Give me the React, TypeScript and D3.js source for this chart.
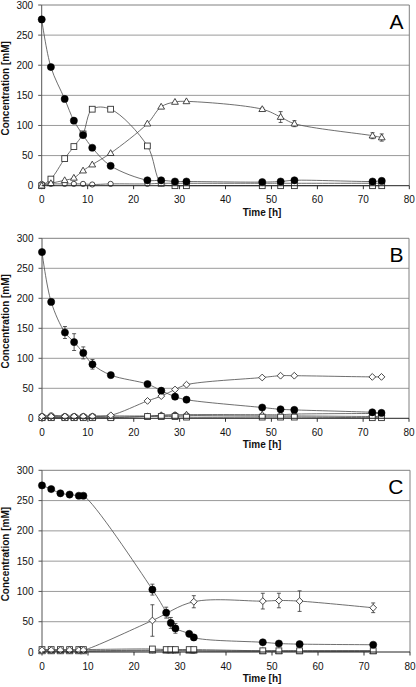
import React from "react";
import * as d3 from "d3";

// ---------- Data ----------
const xTicks = [0, 10, 20, 30, 40, 50, 60, 70, 80];
const yTicks = [0, 50, 100, 150, 200, 250, 300];

// Panel A
const timesA = [0, 2, 5, 7, 9, 11, 15, 23, 26, 29, 31.5, 48, 52, 55, 72, 74];
const glucoseA = [276, 197, 144, 108, 84, 63, 33, 9, 9, 7, 7, 6, 7, 9, 7, 8];
const squareA = [0, 11, 45, 65, 86, 127, 127, 66, 4, 0, 0, 0, 0, 0, 0, 0];
const triangleA = [0, 4, 9, 13, 25, 35, 54, 103, 131, 139, 140, 127, 114, 103, 83, 80];
const triangleErrA = [0, 0, 0, 0, 0, 0, 0, 0, 0, 0, 0, 2, 9, 5, 5, 6];
const openCircleA = [3, 3, 3, 3, 3, 2, 3, 3, 4, 4, 4, 4, 4, 4, 4, 4];

// Panel B
const timesB = [0, 2, 5, 7, 9, 11, 15, 23, 26, 29, 31.5, 48, 52, 55, 72, 74];
const glucoseB = [277, 194, 143, 127, 109, 90, 72, 57, 46, 36, 31, 18, 15, 14, 10, 9];
const glucoseErrB = [0, 3, 10, 14, 10, 8, 4, 2, 2, 2, 2, 2, 2, 2, 2, 2];
const diamondB = [3, 3, 3, 3, 3, 3, 5, 29, 37, 48, 56, 68, 71, 71, 69, 69];
const squareB = [1, 1, 1, 1, 1, 1, 1, 3, 3, 3, 2, 2, 2, 2, 1, 1];
const triangleB = [1, 1, 1, 1, 2, 2, 2, 3, 5, 5, 6, 6, 6, 7, 8, 8];
const openCircleB = [4, 5, 4, 4, 4, 4, 4, 4, 5, 6, 5, 4, 4, 4, 3, 3];

// Panel C
const timesC = [0, 2, 4, 6, 8, 9, 24, 27, 28, 29, 32, 33, 48, 51.5, 56, 72];
const glucoseC = [275, 269, 262, 260, 258, 258, 103, 65, 48, 39, 30, 24, 16, 14, 13, 12];
const glucoseErrC = [0, 0, 0, 0, 0, 0, 9, 9, 9, 8, 0, 0, 0, 0, 0, 0];
const timesDiamondC = [0, 2, 4, 6, 8, 9, 24, 33, 48, 51.5, 56, 72];
const diamondC = [3, 3, 3, 3, 3, 3, 52, 83, 84, 85, 84, 73];
const diamondErrC = [0, 0, 0, 0, 0, 0, 26, 10, 13, 12, 17, 8];
const squareC = [4, 4, 4, 4, 4, 4, 5, 4, 4, 4, 4, 4, 2, 2, 2, 2];
const triangleC = [1, 1, 1, 1, 1, 1, 2, 2, 2, 2, 2, 2, 1, 1, 1, 1];
const openCircleC = [2, 2, 2, 2, 2, 2, 3, 3, 3, 3, 3, 2, 2, 2, 2, 2];

type Shape = "filled" | "square" | "triangle" | "circle" | "diamond";
interface Series {
  shape: Shape;
  x: number[];
  y: number[];
  err?: number[];
}

const panels = [
  {
    letter: "A",
    layout: { left: 41.7, right: 409.3, top: 5, bottom: 185.7 },
    series: [
      { shape: "circle", x: timesA, y: openCircleA },
      { shape: "square", x: timesA, y: squareA },
      { shape: "triangle", x: timesA, y: triangleA, err: triangleErrA },
      { shape: "filled", x: timesA, y: glucoseA },
    ] as Series[],
  },
  {
    letter: "B",
    layout: { left: 42, right: 409, top: 238.3, bottom: 418.3 },
    series: [
      { shape: "circle", x: timesB, y: openCircleB },
      { shape: "triangle", x: timesB, y: triangleB },
      { shape: "square", x: timesB, y: squareB },
      { shape: "diamond", x: timesB, y: diamondB },
      { shape: "filled", x: timesB, y: glucoseB, err: glucoseErrB },
    ] as Series[],
  },
  {
    letter: "C",
    layout: { left: 42, right: 410, top: 470.3, bottom: 652 },
    series: [
      { shape: "circle", x: timesC, y: openCircleC },
      { shape: "triangle", x: timesC, y: triangleC },
      { shape: "square", x: timesC, y: squareC },
      { shape: "diamond", x: timesDiamondC, y: diamondC, err: diamondErrC },
      { shape: "filled", x: timesC, y: glucoseC, err: glucoseErrC },
    ] as Series[],
  },
];

const FONT = "'Liberation Sans', Arial, sans-serif";
const LINE = "#4a4a4a";

function Marker({ shape, cx, cy }: { shape: Shape; cx: number; cy: number }) {
  const stroke = "#333";
  const sw = 0.9;
  switch (shape) {
    case "filled":
      return <circle cx={cx} cy={cy} r={3.6} fill="#000" stroke="#000" strokeWidth={0.5} />;
    case "circle":
      return <circle cx={cx} cy={cy} r={2.6} fill="#fff" stroke={stroke} strokeWidth={sw} />;
    case "square":
      return <rect x={cx - 2.9} y={cy - 2.9} width={5.8} height={5.8} fill="#fff" stroke={stroke} strokeWidth={sw} />;
    case "triangle": {
      const h = 5.8, w = 6.8;
      const p = `M${cx},${cy - h * 0.6}L${cx + w / 2},${cy + h * 0.4}L${cx - w / 2},${cy + h * 0.4}Z`;
      return <path d={p} fill="#fff" stroke={stroke} strokeWidth={sw} />;
    }
    case "diamond": {
      const r = 3.4;
      const p = `M${cx},${cy - r}L${cx + r},${cy}L${cx},${cy + r}L${cx - r},${cy}Z`;
      return <path d={p} fill="#fff" stroke={stroke} strokeWidth={sw} />;
    }
  }
  return null;
}

function Panel({ p }: { p: (typeof panels)[number] }) {
  const { left, right, top, bottom } = p.layout;
  const x = d3.scaleLinear().domain([0, 80]).range([left, right]);
  const y = d3.scaleLinear().domain([0, 300]).range([bottom, top]);
  const line = d3
    .line<[number, number]>()
    .x((d) => x(d[0]))
    .y((d) => y(d[1]))
    .curve(d3.curveCatmullRom.alpha(0.5));

  return (
    <g>
      {/* gridlines */}
      {yTicks.filter((t) => t > 0 && t < 300).map((t) => (
        <line key={"g" + t} x1={left} x2={right} y1={y(t)} y2={y(t)} stroke="#9a9a9a" strokeWidth={1} />
      ))}
      {/* plot border top/right */}
      <line x1={left} x2={right} y1={top} y2={top} stroke="#808080" strokeWidth={1} />
      <line x1={right} x2={right} y1={top} y2={bottom} stroke="#808080" strokeWidth={1} />
      {/* axes */}
      <line x1={left} x2={left} y1={top} y2={bottom} stroke="#555" strokeWidth={1} />
      {yTicks.map((t) => (
        <g key={"yt" + t}>
          <line x1={left - 3.5} x2={left} y1={y(t)} y2={y(t)} stroke="#555" strokeWidth={1} />
          <text x={left - 8.5} y={y(t)} dy="0.35em" textAnchor="end" fontSize={10} fontFamily={FONT} fill="#111">
            {t}
          </text>
        </g>
      ))}
      {xTicks.map((t) => (
        <g key={"xt" + t}>
          <line x1={x(t)} x2={x(t)} y1={bottom} y2={bottom + 3.5} stroke="#333" strokeWidth={1} />
          <text x={x(t)} y={bottom + 17.5} textAnchor="middle" fontSize={10} fontFamily={FONT} fill="#111">
            {t}
          </text>
        </g>
      ))}
      {/* series lines */}
      {p.series.map((s, i) => (
        <path
          key={"l" + i}
          d={line(s.x.map((xv, j) => [xv, s.y[j]] as [number, number])) || ""}
          fill="none"
          stroke={LINE}
          strokeWidth={0.8}
        />
      ))}
      {/* error bars */}
      {p.series.map((s, i) =>
        s.err
          ? s.x.map((xv, j) =>
              s.err![j] > 0 ? (
                <g key={"e" + i + "-" + j} stroke="#333" strokeWidth={0.8}>
                  <line x1={x(xv)} x2={x(xv)} y1={y(s.y[j] - s.err![j])} y2={y(s.y[j] + s.err![j])} />
                  <line x1={x(xv) - 2} x2={x(xv) + 2} y1={y(s.y[j] - s.err![j])} y2={y(s.y[j] - s.err![j])} />
                  <line x1={x(xv) - 2} x2={x(xv) + 2} y1={y(s.y[j] + s.err![j])} y2={y(s.y[j] + s.err![j])} />
                </g>
              ) : null
            )
          : null
      )}
      {/* markers */}
      {p.series.map((s, i) =>
        s.x.map((xv, j) => <Marker key={"m" + i + "-" + j} shape={s.shape} cx={x(xv)} cy={y(s.y[j])} />)
      )}
      {/* bottom axis line on top */}
      <line x1={left} x2={right} y1={bottom} y2={bottom} stroke="#222" strokeWidth={1} />
      {/* titles */}
      <text
        transform={`translate(8.5,${(top + bottom) / 2 - 7}) rotate(-90)`}
        textAnchor="middle"
        fontSize={10}
        fontWeight="bold"
        fontFamily={FONT}
        fill="#111"
      >
        Concentration [mM]
      </text>
      <text x={262} y={bottom + 30} textAnchor="middle" fontSize={10} fontWeight="bold" fontFamily={FONT} fill="#111">
        Time [h]
      </text>
      <text x={403.5} y={top + 23.5} textAnchor="end" fontSize={21} fontFamily={FONT} fill="#000">
        {p.letter}
      </text>
    </g>
  );
}

export default function App() {
  return (
    <svg
      width={416}
      height={687}
      viewBox="0 0 416 687"
      style={{ position: "absolute", left: 0, top: 0, background: "#fff" }}
    >
      <rect x={0} y={0} width={416} height={687} fill="#fff" />
      {panels.map((p) => (
        <Panel key={p.letter} p={p} />
      ))}
    </svg>
  );
}
